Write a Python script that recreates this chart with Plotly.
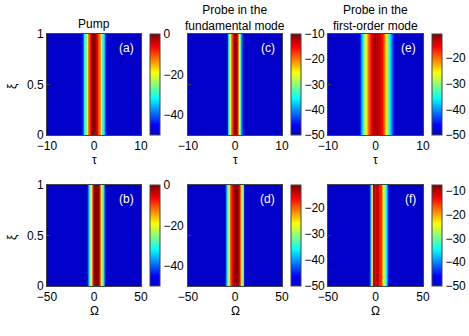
import plotly.graph_objects as go

# propagation distance (rows are identical along xi)
xi = [0, 0.5, 1]

# (a) pump, time domain
tau_a = [-10, -3.0, -2.7, -2.4, -2.1, -1.8, -1.5, -1.2, -0.9, -0.6, -0.3, 0, 0.3, 0.6,
         0.9, 1.2, 1.5, 1.8, 2.1, 2.4, 2.7, 10]
db_a = [-50, -50, -47, -40, -31, -25, -19, -13, -7, -2, 0, 0, -2, -6,
        -10, -14, -21, -29, -35, -43, -50, -50]

# (c) probe fundamental mode, time domain
tau_c = [-10, -1.9, -1.6, -1.4, -1.2, -1.0, -0.75, -0.5, -0.25, 0, 0.25, 0.45, 0.7,
         0.9, 1.1, 1.35, 1.6, 1.9, 10]
db_c = [-50, -50, -45, -37, -31, -25, -20, -15, -11, -10, -11, -15, -20,
        -25, -33, -40, -46, -50, -50]

# (e) probe first-order mode, time domain
tau_e = [-10, -3.6, -3.2, -2.95, -2.7, -2.4, -2.0, -1.5, -1.0, -0.5, -0.2, 0.1, 0.4,
         0.8, 1.3, 1.7, 2.2, 2.5, 2.9, 3.3, 3.7, 4.0, 10]
db_e = [-50, -50, -44, -40, -35, -30, -25, -20, -15, -13, -11, -13, -11,
        -14, -16, -20, -25, -30, -35, -40, -45, -50, -50]

# (b) pump, spectrum
om_b = [-50, -8, -7, -6.4, -5, -4.3, -2.8, -1.8, -0.7, 0.5, 2.3, 4, 4.8, 6.4,
        7.4, 8.5, 9.6, 10.6, 11.7, 12.7, 50]
db_b = [-50, -50, -44, -38, -32, -25, -19, -12, -6, -1, 0, -1, -6, -12,
        -19, -25, -32, -38, -45, -50, -50]

# (d) probe fundamental mode, spectrum
om_d = [-50, -11.5, -10.5, -9.6, -8.5, -7.8, -6.7, -5.3, -3.5, -1.5, 1, 3.5, 4.6,
        5.6, 6.7, 7.4, 8.2, 9.2, 9.9, 11, 50]
db_d = [-50, -50, -45, -40, -35, -30, -25, -20, -16, -12.5, -11.5, -12.5, -16,
        -20, -25, -30, -35, -40, -45, -50, -50]

# (f) probe first-order mode, spectrum
om_f = [-50, -7.5, -6.5, -5.9, -4.8, -4, -3, -2.3, -1.2, -0.2, 1.2, 2.5, 3.7,
        5.9, 6.9, 8.3, 9.8, 10.9, 11.9, 13.3, 14.5, 50]
db_f = [-50, -50, -45, -40, -32, -22, -14, -9, -9, -13, -9, -11, -14,
        -15, -20, -25, -30, -35, -40, -45, -50, -50]

titles = ["Pump", "Probe in the<br>fundamental mode", "Probe in the<br>first-order mode"]
labels = ["(a)", "(c)", "(e)", "(b)", "(d)", "(f)"]

jet = [[0, "rgb(0,0,200)"], [0.1, "rgb(0,0,255)"], [0.36, "rgb(0,255,255)"],
       [0.62, "rgb(255,255,0)"], [0.87, "rgb(255,0,0)"], [1, "rgb(128,0,0)"]]

W, H = 469, 336
col_px = [(47, 141), (188, 282), (328, 423)]
row_px = [(34, 135), (185, 286)]

panels = [
    (tau_a, db_a, (-50, 0), [-40, -20, 0]),
    (tau_c, db_c, (-50, -10), [-50, -40, -30, -20, -10]),
    (tau_e, db_e, (-50, -10.5), [-50, -40, -30, -20]),
    (om_b, db_b, (-50, 0), [-40, -20, 0]),
    (om_d, db_d, (-50, -11.4), [-50, -40, -30, -20]),
    (om_f, db_f, (-50, -7.6), [-50, -40, -30, -20, -10]),
]

font = dict(family="Liberation Sans, Arial", size=12, color="black")
fig = go.Figure()
layout = {}

for i, (xs, zs, (zmin, zmax), cticks) in enumerate(panels):
    r, c = divmod(i, 3)
    n = i + 1
    x0, x1 = col_px[c]
    y0, y1 = row_px[r]
    xd = [x0 / W, x1 / W]
    yd = [1 - y1 / H, 1 - y0 / H]
    xname = "x" if n == 1 else f"x{n}"
    yname = "y" if n == 1 else f"y{n}"
    fig.add_trace(go.Heatmap(
        x=xs, y=xi, z=[zs for _ in xi], xaxis=xname, yaxis=yname,
        zmin=zmin, zmax=zmax, colorscale=jet, zsmooth="best",
        colorbar=dict(
            x=(x1 + 9) / W, xanchor="left", y=(yd[0] + yd[1]) / 2, yanchor="middle",
            len=(y1 - y0) / H, lenmode="fraction", thickness=10, xpad=0, ypad=0,
            outlinewidth=1, outlinecolor="#444", tickvals=cticks,
            ticks="", tickfont=font,
        ),
    ))
    xr = [-10, 10] if r == 0 else [-50, 50]
    layout[f"xaxis{'' if n == 1 else n}"] = dict(
        domain=xd, anchor=yname, range=xr, tickvals=[xr[0], 0, xr[1]],
        showline=True, linecolor="#444", linewidth=1, mirror=True,
        ticks="inside", ticklen=3, tickcolor="#444", tickfont=font,
        showgrid=False, zeroline=False,
    )
    layout[f"yaxis{'' if n == 1 else n}"] = dict(
        domain=yd, anchor=xname, range=[0, 1], tickvals=[0, 0.5, 1],
        ticktext=["0", "0.5", "1"], showticklabels=(c == 0),
        showline=True, linecolor="#444", linewidth=1, mirror=True,
        ticks="inside", ticklen=3, tickcolor="#444", tickfont=font,
        showgrid=False, zeroline=False,
    )

annotations = []
for c, t in enumerate(titles):
    x0, x1 = col_px[c]
    top = 1 if "<br>" in t else 15
    annotations.append(dict(text=t, x=(x0 + x1) / 2 / W, y=1 - top / H, xref="paper", yref="paper",
                            xanchor="center", yanchor="top", showarrow=False, font=font))
for i, lab in enumerate(labels):
    r, c = divmod(i, 3)
    x1 = col_px[c][1]
    y0 = row_px[r][0]
    annotations.append(dict(text=lab, x=(x1 - 5) / W, y=1 - (y0 + 5) / H, xref="paper", yref="paper",
                            xanchor="right", yanchor="top", showarrow=False,
                            font=dict(family=font["family"], size=12, color="white")))
for r, lab in enumerate(["τ", "Ω"]):
    for c in range(3):
        x0, x1 = col_px[c]
        annotations.append(dict(text=lab, x=(x0 + x1) / 2 / W, y=1 - (row_px[r][1] + 16) / H,
                                xref="paper", yref="paper", xanchor="center", yanchor="top",
                                showarrow=False, font=font))
    annotations.append(dict(text="ξ", x=12 / W, y=1 - (row_px[r][0] + 52) / H, xref="paper", yref="paper",
                            xanchor="center", yanchor="middle", showarrow=False, textangle=-90, font=font))

fig.update_layout(
    width=W, height=H, margin=dict(l=0, r=0, t=0, b=0, autoexpand=False),
    paper_bgcolor="white", plot_bgcolor="white", font=font,
    annotations=annotations, showlegend=False, **layout,
)

# drop the browser's default 8px body margin so the figure sits at the page corner
fig.write_html("out.html", config={"displayModeBar": False},
               post_script="document.body.style.margin='0';")
